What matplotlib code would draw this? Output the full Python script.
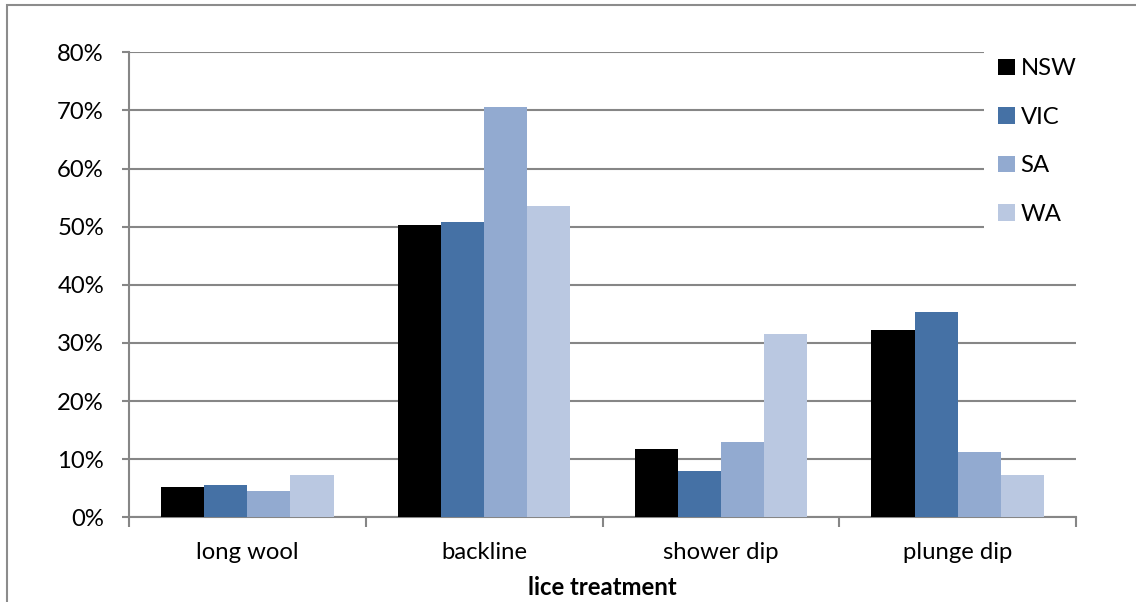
import matplotlib
matplotlib.use("Agg")
import matplotlib.pyplot as plt
from matplotlib.patches import Rectangle
from matplotlib.ticker import PercentFormatter
import numpy as np

plt.rcParams["font.family"] = ["Lato", "DejaVu Sans"]

categories = ["long wool", "backline", "shower dip", "plunge dip"]
states = ["NSW", "VIC", "SA", "WA"]
nsw = [5.2, 50.3, 11.7, 32.3]
vic = [5.5, 50.8, 8.0, 35.3]
sa = [4.6, 70.6, 13.0, 11.2]
wa = [7.2, 53.6, 31.6, 7.2]
colors = ["#000000", "#4571A5", "#92AAD0", "#BAC8E1"]

W, H, DPI = 1136, 602, 100
FS = 17.2
fig = plt.figure(figsize=(W / DPI, H / DPI), dpi=DPI)
ax = fig.add_axes([129 / W, 1 - 517.3 / H, (1076 - 129) / W, (517.3 - 52.3) / H])

# outer chart frame
fig.patches.append(Rectangle((7 / W, -0.2), 2, 1 - 5 / H + 0.2, transform=fig.transFigure,
                             fill=False, edgecolor="#8c8c8c", linewidth=1.5, zorder=0))

grey = "#868686"
bw = 0.182
centers = np.arange(len(categories)) + 0.5
for i, (vals, name, c) in enumerate(zip([nsw, vic, sa, wa], states, colors)):
    ax.bar(centers + (i - 1.5) * bw, vals, width=bw, color=c, label=name, zorder=3,
           linewidth=0)

ax.set_xlim(0, 4)
ax.set_ylim(0, 80)
ax.set_yticks(np.arange(0, 81, 10))
ax.yaxis.set_major_formatter(PercentFormatter(decimals=0))
ax.grid(axis="y", color=grey, linewidth=1.5, zorder=0)
ax.set_axisbelow(True)

ax.set_xticks(np.arange(0, 5))
ax.set_xticklabels([])
ax.set_xticks(centers, minor=True)
ax.set_xticklabels(categories, minor=True)
ax.tick_params(axis="x", which="major", length=7, width=1.5, color=grey, direction="out")
ax.tick_params(axis="x", which="minor", length=0, pad=18, labelsize=FS)
ax.tick_params(axis="y", length=5, width=1.5, color=grey, pad=13, labelsize=FS)

for s in ["top", "right"]:
    ax.spines[s].set_visible(False)
for s in ["left", "bottom"]:
    ax.spines[s].set_color(grey)
    ax.spines[s].set_linewidth(1.5)

ax.set_xlabel("lice treatment", fontsize=FS, fontweight="bold", labelpad=9)

leg = ax.legend(loc="upper left", bbox_to_anchor=(984 / W, 1 - 44 / H),
                bbox_transform=fig.transFigure, frameon=True, fancybox=False,
                edgecolor="none", facecolor="white", framealpha=1, fontsize=FS,
                handlelength=0.68, handleheight=0.68, handletextpad=0.25,
                labelspacing=1.15, borderpad=0.6, borderaxespad=0)
leg.set_zorder(5)

fig.savefig("out.png", dpi=DPI)
